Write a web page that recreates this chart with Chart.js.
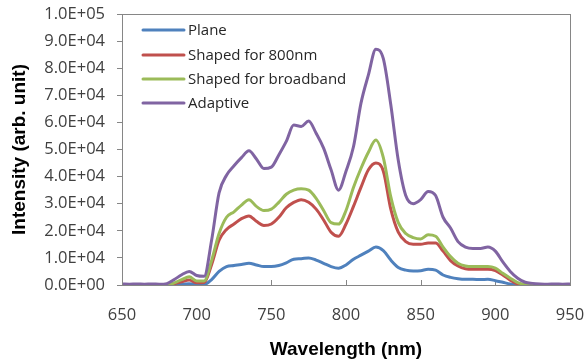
<!DOCTYPE html>
<html>
<head>
<meta charset="utf-8">
<script src="https://cdn.jsdelivr.net/npm/chart.js@4/dist/chart.umd.min.js"></script>
<style>
  html, body { margin: 0; padding: 0; background: #fff; }
  #wrap { width: 586px; height: 361px; }
</style>
</head>
<body>
<div id="wrap"><canvas id="c" width="586" height="361"></canvas></div>
<script>
// Emission spectra: wavelength grid (nm) and intensity per pulse shaping mode
const wavelengths = [650,655,660,665,670,675,680,685,690,695,700,705,710,715,720,725,730,735,740,745,750,755,760,765,770,775,780,785,790,795,800,805,810,815,820,825,830,835,840,845,850,855,860,865,870,875,880,885,890,895,900,905,910,915,920,925,930,935,940,945,950];

const plane = [100,0,100,0,100,0,100,200,300,500,200,200,2000,5000,6800,7200,7600,8000,7400,6800,6800,7200,8200,9500,9700,10000,9200,8000,6800,6200,7400,9500,11000,12500,14000,12700,9200,6500,5500,5200,5300,5800,5500,3700,2800,2300,2100,2100,2000,2100,1600,1000,400,0,0,0,0,0,0,0,0];

const shaped800 = [100,100,100,100,100,100,100,500,1200,1800,800,900,7500,16500,20500,22500,24500,25500,23500,22000,22500,25000,28500,30500,31500,30500,28000,24000,19500,18000,22500,29000,36000,42500,45000,42000,28000,19500,16000,15000,15000,15500,15500,12500,9000,7000,6000,5800,5800,5800,5300,3700,1800,400,0,0,0,0,0,0,0];

const shapedBroadband = [100,100,100,100,100,100,100,800,2000,3000,1500,1500,9000,19000,25000,27000,29500,31500,29000,27500,28000,30500,33500,35000,35500,35000,32000,27500,23000,22500,27500,36000,43000,49000,53500,47000,32500,23000,19000,17500,17000,18500,18000,14000,10500,8000,7000,6800,6800,6800,6200,4300,2500,900,200,0,0,0,0,0,0];

const adaptive = [400,300,400,300,400,300,500,2000,3800,5000,3500,3200,16500,34000,40500,44000,47000,49500,46500,43000,43500,48000,53000,59000,58500,60500,56000,50500,42500,35000,42000,51000,67000,77500,87000,83500,66500,46000,33000,30000,31500,34500,33000,25000,21000,16000,14000,13500,13500,14000,12500,8500,5000,2500,1000,600,400,300,400,300,400];

const seriesNames = ['Plane', 'Shaped for 800nm', 'Shaped for broadband', 'Adaptive'];
const seriesColors = ['#4F81BD', '#C0504D', '#9BBB59', '#8064A2'];
const seriesValues = [plane, shaped800, shapedBroadband, adaptive];

const xTicks = [650, 700, 750, 800, 850, 900, 950];

const FRAME = '#868686';
const TICK_FONT = { family: '"Open Sans", "DejaVu Sans", sans-serif', size: 16.5 };
const TITLE_FONT = { family: '"Liberation Sans", Arial, sans-serif', size: 19, weight: 'bold' };

// Scientific notation like 1.0E+05
function sci(v) {
  if (v === 0) return '0.0E+00';
  const exp = Math.floor(Math.log10(Math.abs(v)));
  const mant = v / Math.pow(10, exp);
  const sign = exp < 0 ? '-' : '+';
  const e = String(Math.abs(exp)).padStart(2, '0');
  return mant.toFixed(1) + 'E' + sign + e;
}

const datasets = seriesNames.map((name, i) => ({
  label: name,
  data: wavelengths.map((w, k) => ({ x: w, y: seriesValues[i][k] })),
  borderColor: seriesColors[i],
  backgroundColor: seriesColors[i],
  borderWidth: 3,
  pointRadius: 0,
  fill: false,
  cubicInterpolationMode: 'monotone',
  order: seriesNames.length - i
}));

// Plot frame, inward x tick marks and an in-plot legend
const decor = {
  id: 'decor',
  beforeDatasetsDraw(chart) {
    const { ctx, chartArea: a, scales: { x } } = chart;
    ctx.save();
    ctx.strokeStyle = FRAME;
    ctx.lineWidth = 1;
    ctx.beginPath();
    xTicks.forEach(t => {
      const px = Math.round(x.getPixelForValue(t)) + 0.5;
      ctx.moveTo(px, a.bottom);
      ctx.lineTo(px, a.bottom - 5);
    });
    ctx.stroke();
    ctx.restore();
  },
  afterDatasetsDraw(chart) {
    const { ctx, chartArea: a } = chart;
    ctx.save();
    ctx.strokeStyle = FRAME;
    ctx.lineWidth = 1;
    ctx.strokeRect(Math.round(a.left) + 0.5, Math.round(a.top) + 0.5,
                   Math.round(a.right - a.left), Math.round(a.bottom - a.top));
    // legend
    const x0 = a.left + 21, x1 = a.left + 62, tx = a.left + 66;
    const rowY = [a.top + 16, a.top + 41, a.top + 65, a.top + 89];
    ctx.font = '15px "Open Sans", "DejaVu Sans", sans-serif';
    ctx.textBaseline = 'middle';
    ctx.textAlign = 'left';
    seriesNames.forEach((n, i) => {
      ctx.strokeStyle = seriesColors[i];
      ctx.lineWidth = 3;
      ctx.lineCap = 'round';
      ctx.beginPath();
      ctx.moveTo(x0, rowY[i]);
      ctx.lineTo(x1, rowY[i]);
      ctx.stroke();
      ctx.fillStyle = '#262626';
      ctx.fillText(n, tx, rowY[i] + 1);
    });
    ctx.restore();
  }
};

new Chart(document.getElementById('c'), {
  type: 'line',
  data: { datasets },
  options: {
    responsive: false,
    animation: false,
    layout: { padding: { top: 14, right: 16, left: 0, bottom: 0 } },
    plugins: { legend: { display: false }, tooltip: { enabled: false } },
    scales: {
      x: {
        type: 'linear',
        min: 650, max: 950,
        afterFit(s) { s.height = 76; s.paddingLeft = 0; s.paddingRight = 0; },
        afterBuildTicks(s) { s.ticks = xTicks.map(v => ({ value: v })); },
        grid: { display: false },
        border: { display: true, color: FRAME },
        ticks: { color: '#404040', font: TICK_FONT, padding: 12, maxRotation: 0 },
        title: { display: true, text: 'Wavelength (nm)', color: '#000', font: TITLE_FONT, padding: { top: 6, bottom: 0 } }
      },
      y: {
        min: 0, max: 100000,
        afterFit(s) { s.width = 122; s.paddingTop = 0; s.paddingBottom = 0; },
        grid: { drawOnChartArea: false, drawTicks: true, tickLength: 5, color: FRAME },
        border: { display: true, color: FRAME },
        ticks: { stepSize: 10000, color: '#404040', font: TICK_FONT, padding: 12, callback: v => sci(v) },
        title: { display: true, text: 'Intensity (arb. unit)', color: '#000', font: TITLE_FONT, padding: { top: 8, bottom: 0 } }
      }
    }
  },
  plugins: [decor]
});
</script>
</body>
</html>
